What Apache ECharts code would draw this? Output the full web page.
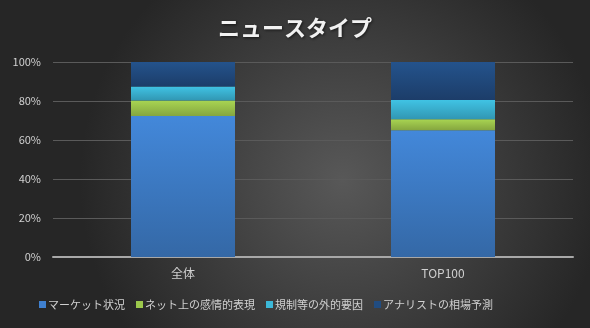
<!DOCTYPE html>
<html>
<head>
<meta charset="utf-8">
<script src="https://cdn.jsdelivr.net/npm/echarts@6/dist/echarts.min.js"></script>
<style>
  html, body { margin: 0; padding: 0; background: #3a3a3a; }
  #chart { width: 590px; height: 328px; }
</style>
</head>
<body>
<div id="chart"></div>
<script>
// News type composition (percent share per group)
const categories = ['全体', 'TOP100'];
const seriesNames = ['マーケット状況', 'ネット上の感情的表現', '規制等の外的要因', 'アナリストの相場予測'];
const marketValues = [72.3, 65.0];
const emotionValues = [7.9, 5.6];
const externalValues = [7.2, 9.9];
const analystValues = [12.6, 19.5];
const yTicks = [0, 20, 40, 60, 80, 100];

const seriesValues = [marketValues, emotionValues, externalValues, analystValues];
const gradients = [
  ['#4388da', '#3468a6'],
  ['#a8d452', '#85a63f'],
  ['#40c3e4', '#3196b2'],
  ['#24538c', '#1c3d69']
];
const legendColors = ['#3f80cf', '#9cc84c', '#3cb8d8', '#214c80'];

const font = '"Noto Sans CJK JP", "Noto Sans", sans-serif';
const chart = echarts.init(document.getElementById('chart'));

chart.setOption({
  backgroundColor: {
    type: 'radial', x: 0.58, y: 0.55, r: 0.8,
    colorStops: [
      { offset: 0, color: '#585858' },
      { offset: 1, color: '#262626' }
    ]
  },
  animation: false,
  title: {
    text: 'ニュースタイプ',
    left: 'center',
    top: 12,
    textStyle: {
      color: '#f2f2f2', fontSize: 22, fontWeight: 'bold', fontFamily: font,
      textShadowColor: 'rgba(0,0,0,0.6)', textShadowBlur: 3, textShadowOffsetX: 1, textShadowOffsetY: 1
    }
  },
  legend: {
    bottom: 13,
    left: 34,
    itemWidth: 7,
    itemHeight: 7,
    itemGap: 11,
    icon: 'rect',
    textStyle: { color: '#d0d0d0', fontSize: 11, fontFamily: font, padding: [0, 0, 0, -3] },
    data: seriesNames.map((n, i) => ({ name: n, itemStyle: { color: legendColors[i] } }))
  },
  grid: { left: 53, right: 17, top: 62, bottom: 71, containLabel: false },
  xAxis: {
    type: 'category',
    data: categories,
    axisLine: { lineStyle: { color: '#a8a8a8', width: 2 } },
    axisTick: { show: false },
    axisLabel: { color: '#d0d0d0', fontSize: 12, fontFamily: font, margin: 10 }
  },
  yAxis: {
    type: 'value',
    min: yTicks[0],
    max: yTicks[yTicks.length - 1],
    interval: 20,
    axisLine: { show: false },
    axisTick: { show: false },
    axisLabel: { color: '#d0d0d0', fontSize: 11, fontFamily: font, margin: 12, formatter: '{value}%' },
    splitLine: { lineStyle: { color: '#5a5a5a', width: 1 } }
  },
  series: seriesNames.map((name, i) => ({
    name,
    type: 'bar',
    stack: 'total',
    barWidth: '40%',
    data: seriesValues[i],
    itemStyle: {
      color: {
        type: 'linear', x: 0, y: 0, x2: 0, y2: 1,
        colorStops: [
          { offset: 0, color: gradients[i][0] },
          { offset: 1, color: gradients[i][1] }
        ]
      }
    }
  }))
});
</script>
</body>
</html>
